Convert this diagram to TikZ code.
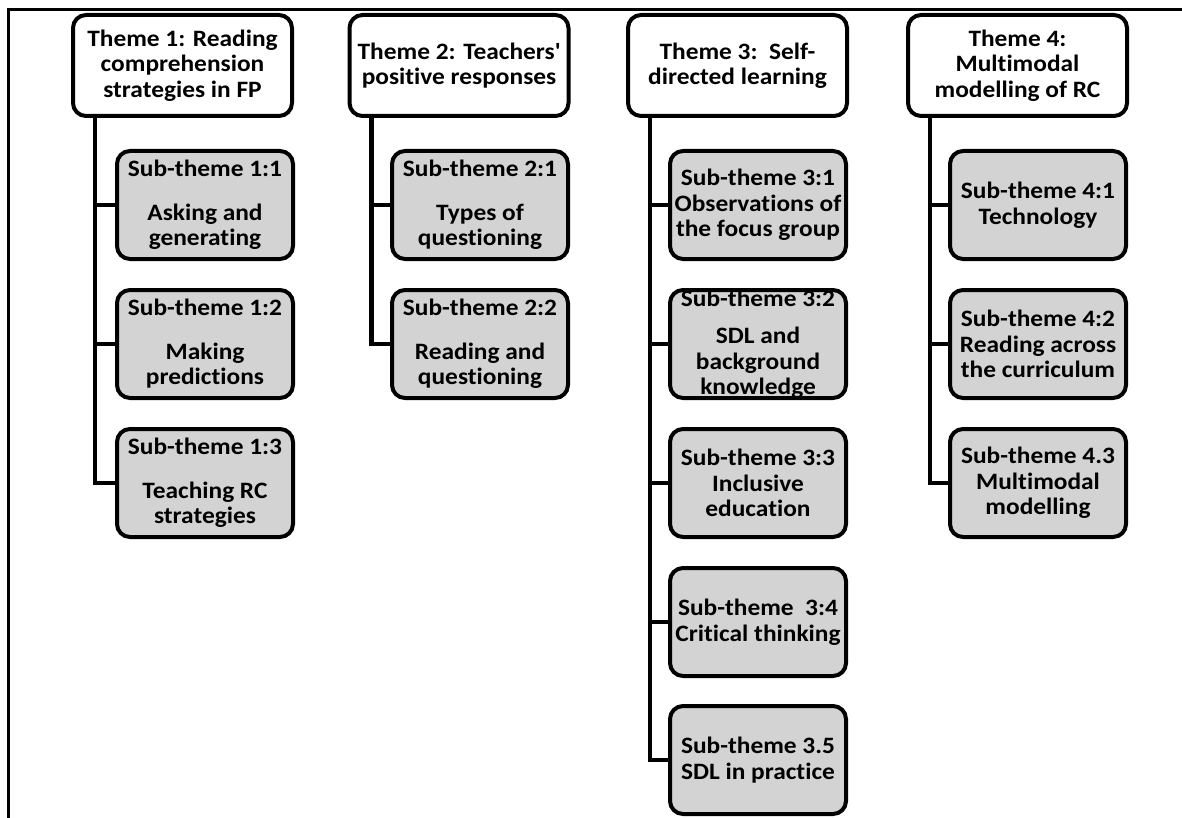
\documentclass[tikz,border=0pt]{standalone}
\usepackage{fontspec}
\setmainfont{Carlito}[FakeStretch=1.08, Ligatures={NoCommon}]
\definecolor{subgray}{RGB}{211,211,211}
\begin{document}
\begin{tikzpicture}[x=1pt,y=-1pt,
  boxtext/.style={font=\bfseries\fontsize{23.5}{25.5}\selectfont, align=center, text=black},
  themebox/.style={boxtext, draw=black, line width=4pt, rounded corners=13pt, fill=white,
    minimum width=219pt, minimum height=101pt, inner sep=0pt},
  subbox/.style={themebox, fill=subgray, minimum width=176pt, minimum height=108pt},
  link/.style={draw=black, line width=4.5pt},
  frameline/.style={draw=black, line width=3pt}]
\useasboundingbox (0,0) rectangle (1182,818);

% outer frame (top and left rules)
\draw[frameline] (8.5,818) -- (8.5,9.5) -- (1182,9.5);

% themes
\node[themebox] (t1) at (182.5,65.5) {Theme 1: Reading\\comprehension\\strategies in FP};
\node[themebox] (t2) at (459,65.5) {Theme 2: Teachers\textquotesingle\\positive responses};
\node[themebox] (t3) at (737.5,65.5) {Theme 3:\ \ Self-\\directed learning};
\node[themebox] (t4) at (1017.5,65.5) {Theme 4:\\Multimodal\\modelling of RC};

% theme 1 sub-themes
\node[subbox] (s11) at (205,205) {Sub-theme 1:1\\[18pt]Asking and\\generating};
\node[subbox] (s12) at (205,344) {Sub-theme 1:2\\[18pt]Making\\predictions};
\node[subbox] (s13) at (205,483) {Sub-theme 1:3\\[18pt]Teaching RC\\strategies};

% theme 2 sub-themes
\node[subbox] (s21) at (480,205) {Sub-theme 2:1\\[18pt]Types of\\questioning};
\node[subbox] (s22) at (480,344) {Sub-theme 2:2\\[18pt]Reading and\\questioning};

% theme 3 sub-themes
\node[subbox] (s31) at (758,205) {Sub-theme 3:1\\Observations of\\the focus group};
\node[subbox, path picture={
    \node[boxtext, draw=none, fill=none, inner sep=0pt, minimum width=0pt, minimum height=0pt]
      at (path picture bounding box.center)
      {Sub-theme 3:2\\[12pt]SDL and\\background\\knowledge};}] (s32) at (758,344) {};
\node[subbox] (s33) at (758,483) {Sub-theme 3:3\\Inclusive\\education};
\node[subbox] (s34) at (758,622) {Sub-theme\ \ 3:4\\Critical thinking};
\node[subbox] (s35) at (758,760) {Sub-theme 3.5\\SDL in practice};

% theme 4 sub-themes
\node[subbox] (s41) at (1038,205) {Sub-theme 4:1\\Technology};
\node[subbox] (s42) at (1038,344) {Sub-theme 4:2\\Reading across\\the curriculum};
\node[subbox] (s43) at (1038,483) {Sub-theme 4.3\\Multimodal\\modelling};

% connectors from each theme down its spine to its sub-themes
\foreach \t/\subs in {t1/{s11,s12,s13}, t2/{s21,s22}, t3/{s31,s32,s33,s34,s35}, t4/{s41,s42,s43}} {
  \foreach \s in \subs {
    \draw[link] ([xshift=24pt]\t.south west) |- (\s.west);
  }
}
\end{tikzpicture}
\end{document}
